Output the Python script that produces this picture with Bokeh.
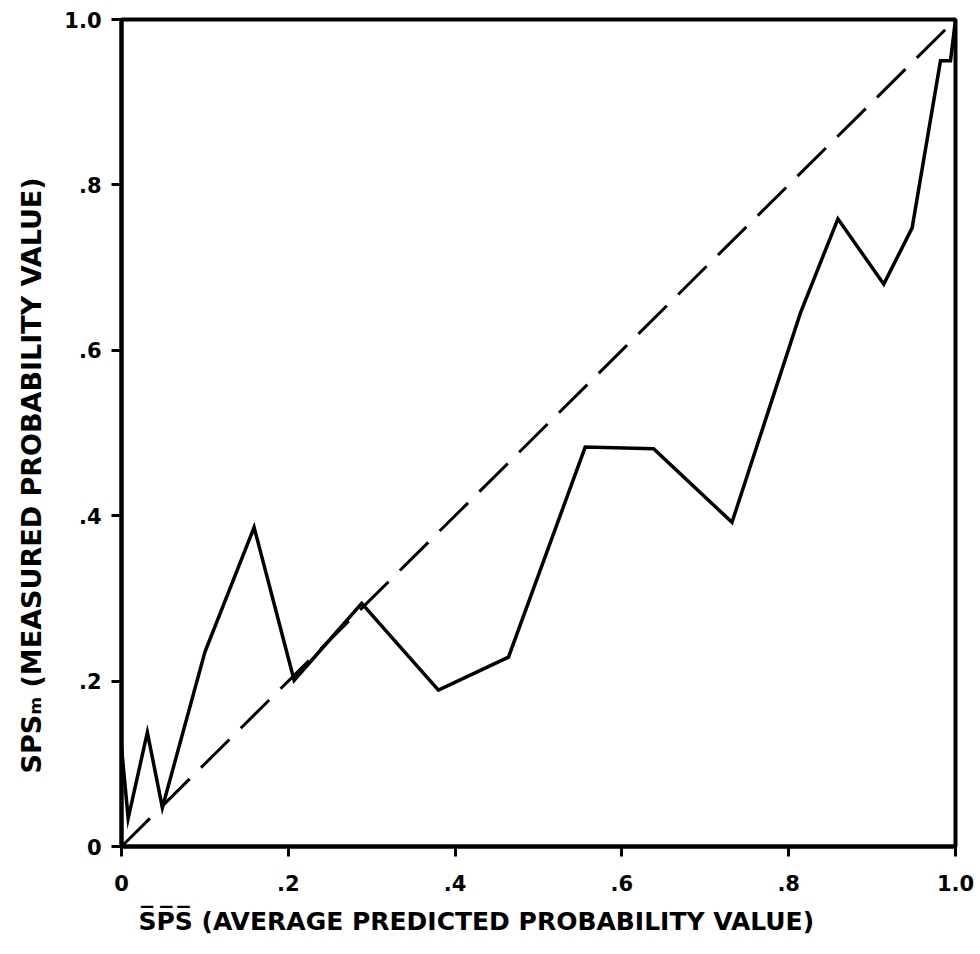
from bokeh.plotting import figure
from bokeh.models import Range1d, FixedTicker, Title
from bokeh.embed import file_html
from bokeh.resources import INLINE

# Data
sps_avg = [0.0, 0.008, 0.031, 0.049, 0.100, 0.159, 0.207, 0.288, 0.380, 0.464,
           0.556, 0.638, 0.732, 0.814, 0.859, 0.914, 0.948, 0.982, 0.994, 1.0]
sps_m = [0.12, 0.034, 0.138, 0.047, 0.235, 0.386, 0.201, 0.294, 0.189, 0.229,
         0.483, 0.481, 0.392, 0.645, 0.759, 0.680, 0.748, 0.950, 0.950, 1.0]
diag_x = [0.0, 1.0]
diag_y = [0.0, 1.0]
tick_vals = [0.0, 0.2, 0.4, 0.6, 0.8, 1.0]
tick_text = ["0", ".2", ".4", ".6", ".8", "1.0"]
x_title = "S\u0305P\u0305S\u0305 (AVERAGE PREDICTED PROBABILITY VALUE)"
y_title = "SPS\u2098 (MEASURED PROBABILITY VALUE)"

FONT = "DejaVu Sans"

p = figure(width=978, height=954, output_backend="svg", toolbar_location=None,
           x_range=Range1d(0, 1), y_range=Range1d(0, 1),
           min_border_left=121, min_border_right=23, min_border_top=19,
           min_border_bottom=108)
p.background_fill_color = "white"
p.border_fill_color = "white"
p.grid.visible = False
p.outline_line_color = "black"
p.outline_line_width = 4

for ax in (p.xaxis[0], p.yaxis[0]):
    ax.ticker = FixedTicker(ticks=tick_vals)
    ax.major_label_overrides = {v: t for v, t in zip(tick_vals, tick_text)}
    ax.axis_line_width = 4
    ax.axis_line_color = "black"
    ax.major_tick_in = 0
    ax.major_tick_out = 10
    ax.major_tick_line_width = 3
    ax.minor_tick_line_color = None
    ax.major_label_text_font = FONT
    ax.major_label_text_font_style = "bold"
    ax.major_label_text_font_size = "21px"
    ax.major_label_text_color = "black"
p.xaxis[0].major_label_standoff = 18
p.yaxis[0].major_label_standoff = 10

p.line(diag_x, diag_y, line_color="black", line_width=3, line_dash="40 16")
p.line(sps_avg, sps_m, line_color="black", line_width=3.5, line_join="miter")

xt = Title(text=x_title, align="left", offset=17, standoff=22,
           vertical_align="bottom",
           text_font=FONT, text_font_style="bold", text_font_size="25px",
           text_color="black")
p.add_layout(xt, "below")

yt = Title(text=y_title, align="left", offset=73, standoff=26,
           vertical_align="top",
           text_font=FONT, text_font_style="bold", text_font_size="27px",
           text_color="black")
p.add_layout(yt, "left")

open("out.html", "w").write(file_html(p, INLINE))
